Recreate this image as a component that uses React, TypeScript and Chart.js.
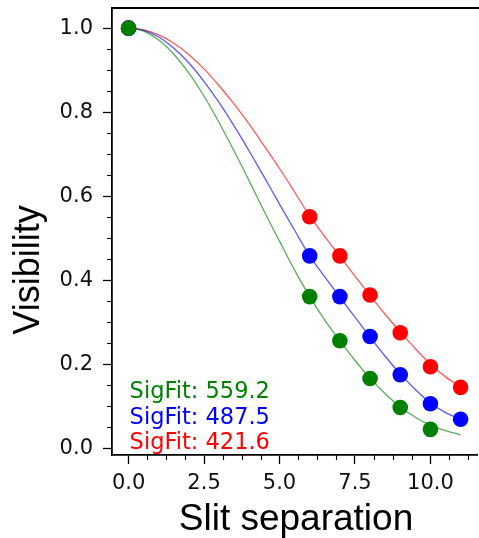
import React, { useEffect, useRef } from 'react';
import { Chart, registerables } from 'chart.js';

Chart.register(...registerables);

// ---- data ----
const curveX = [0, 0.5, 1, 1.5, 2, 2.5, 3, 3.5, 4, 4.5, 5, 5.5, 6, 6.5, 7, 7.5, 8, 8.5, 9, 9.5, 10, 10.5, 11];
const redCurve = [1, 0.996, 0.984, 0.964, 0.937, 0.903, 0.863, 0.819, 0.771, 0.719, 0.666, 0.61, 0.553, 0.504, 0.457, 0.41, 0.364, 0.319, 0.277, 0.237, 0.2, 0.17, 0.146];
const blueCurve = [1, 0.995, 0.979, 0.952, 0.917, 0.873, 0.823, 0.767, 0.707, 0.645, 0.581, 0.519, 0.458, 0.408, 0.36, 0.312, 0.265, 0.219, 0.177, 0.14, 0.108, 0.085, 0.069];
const greenCurve = [1, 0.993, 0.972, 0.938, 0.893, 0.838, 0.775, 0.707, 0.636, 0.563, 0.493, 0.424, 0.361, 0.305, 0.256, 0.209, 0.167, 0.13, 0.099, 0.074, 0.055, 0.042, 0.032];

const pointX = [0, 6, 7, 8, 9, 10, 11];
const redPoints = [1.0, 0.551, 0.458, 0.365, 0.275, 0.194, 0.145];
const bluePoints = [1.0, 0.458, 0.361, 0.266, 0.175, 0.106, 0.069];
const greenPointX = [0, 6, 7, 8, 9, 10];
const greenPoints = [1.0, 0.361, 0.256, 0.166, 0.097, 0.045];

const xTicks = [0, 2.5, 5, 7.5, 10];
const yTicks = [0, 0.2, 0.4, 0.6, 0.8, 1.0];
const sigFitLabels = ['SigFit: 559.2', 'SigFit: 487.5', 'SigFit: 421.6'];
const sigFitColors = ['#008000', '#0000ff', '#ff0000'];
const xTitle = 'Slit separation';
const yTitle = 'Visibility';

const decorations = {
  id: 'decorations',
  afterDraw(chart: any) {
    const { ctx, chartArea, scales } = chart;
    const xs = scales.x;
    const ys = scales.y;
    ctx.save();
    // top spine
    ctx.strokeStyle = '#000';
    ctx.lineWidth = 1.8;
    ctx.beginPath();
    ctx.moveTo(chartArea.left - 0.9, chartArea.top);
    ctx.lineTo(chartArea.right + 2, chartArea.top);
    ctx.stroke();
    // minor ticks
    ctx.lineWidth = 1.1;
    for (let k = 1; k < 21; k++) {
      if (k % 4 === 0) continue;
      const py = Math.round(ys.getPixelForValue(k * 0.05)) + 0.5;
      ctx.beginPath();
      ctx.moveTo(chartArea.left - 5, py);
      ctx.lineTo(chartArea.left, py);
      ctx.stroke();
    }
    for (let k = 1; k < 19; k++) {
      if (k % 4 === 0) continue;
      const px = Math.round(xs.getPixelForValue(k * 0.625)) + 0.5;
      ctx.beginPath();
      ctx.moveTo(px, chartArea.bottom);
      ctx.lineTo(px, chartArea.bottom + 5);
      ctx.stroke();
    }
    // fit labels
    const anchorsY = [0.123, 0.06, 0.0];
    ctx.font = '22.5px "DejaVu Sans"';
    ctx.textAlign = 'left';
    ctx.textBaseline = 'alphabetic';
    sigFitLabels.forEach((t, i) => {
      ctx.fillStyle = sigFitColors[i];
      ctx.fillText(t, xs.getPixelForValue(0) + 1, ys.getPixelForValue(anchorsY[i]) + 1);
    });
    // axis titles
    ctx.fillStyle = '#000';
    ctx.font = '37px "Liberation Sans"';
    ctx.textAlign = 'center';
    ctx.fillText(xTitle, 296, 530);
    ctx.font = '36px "Liberation Sans"';
    ctx.translate(39, 270);
    ctx.rotate(-Math.PI / 2);
    ctx.fillText(yTitle, 0, 0);
    ctx.restore();
  },
};

export default function App() {
  const ref = useRef<HTMLCanvasElement>(null);
  useEffect(() => {
    if (!ref.current) return;
    const tickFont = { family: 'DejaVu Sans', size: 21 };
    const line = (ys: number[], color: string, order: number) => ({
      data: curveX.map((x, i) => ({ x, y: ys[i] })),
      showLine: true,
      pointRadius: 0,
      borderColor: color,
      borderWidth: 1.3,
      cubicInterpolationMode: 'monotone',
      fill: false,
      order,
    });
    const pts = (xsArr: number[], ys: number[], color: string, order: number) => ({
      data: xsArr.map((x, i) => ({ x, y: ys[i] })),
      showLine: false,
      pointRadius: 7.8,
      pointBorderWidth: 0,
      backgroundColor: color,
      borderColor: color,
      order,
    });
    const chart = new Chart(ref.current, {
      type: 'scatter',
      data: {
        datasets: [
          pts(greenPointX, greenPoints, '#008000', 0),
          pts(pointX, bluePoints, '#0000ff', 1),
          pts(pointX, redPoints, '#ff0000', 2),
          line(greenCurve, 'rgba(0,128,0,0.65)', 3),
          line(blueCurve, 'rgba(0,0,255,0.65)', 4),
          line(redCurve, 'rgba(255,0,0,0.65)', 5),
        ] as any,
      },
      options: {
        responsive: false,
        devicePixelRatio: 1,
        animation: false,
        layout: { padding: { top: 8, left: 0, right: 0, bottom: 0 } },
        plugins: { legend: { display: false }, tooltip: { enabled: false } },
        scales: {
          x: {
            type: 'linear',
            min: -0.55,
            max: 11.55,
            afterBuildTicks: (s: any) => {
              s.ticks = xTicks.map((v) => ({ value: v }));
            },
            afterFit: (s: any) => {
              s.height = 83;
              s.paddingLeft = 0;
              s.paddingRight = 0;
              s.paddingTop = 0;
              s.paddingBottom = 0;
            },
            ticks: {
              callback: (v: any) => Number(v).toFixed(1),
              font: tickFont,
              color: '#111',
              padding: 7,
              maxRotation: 0,
              autoSkip: false,
            },
            grid: { display: true, drawOnChartArea: false, drawTicks: true, tickLength: 9, tickColor: '#000', tickWidth: 1.3 },
            border: { display: true, color: '#000', width: 1.8 },
          },
          y: {
            type: 'linear',
            min: -0.016,
            max: 1.048,
            afterBuildTicks: (s: any) => {
              s.ticks = yTicks.map((v) => ({ value: v }));
            },
            afterFit: (s: any) => {
              s.width = 112;
              s.paddingLeft = 0;
              s.paddingRight = 0;
              s.paddingTop = 0;
              s.paddingBottom = 0;
            },
            ticks: {
              callback: (v: any) => Number(v).toFixed(1),
              font: tickFont,
              color: '#111',
              padding: 10,
              autoSkip: false,
            },
            grid: { display: true, drawOnChartArea: false, drawTicks: true, tickLength: 9, tickColor: '#000', tickWidth: 1.3 },
            border: { display: true, color: '#000', width: 1.8 },
          },
        },
      } as any,
      plugins: [decorations],
    });
    return () => chart.destroy();
  }, []);
  return (
    <div style={{ position: 'absolute', left: 0, top: 0, width: 479, height: 538, overflow: 'hidden', background: '#fff' }}>
      <canvas ref={ref} width={485} height={538} style={{ display: 'block' }} />
    </div>
  );
}
